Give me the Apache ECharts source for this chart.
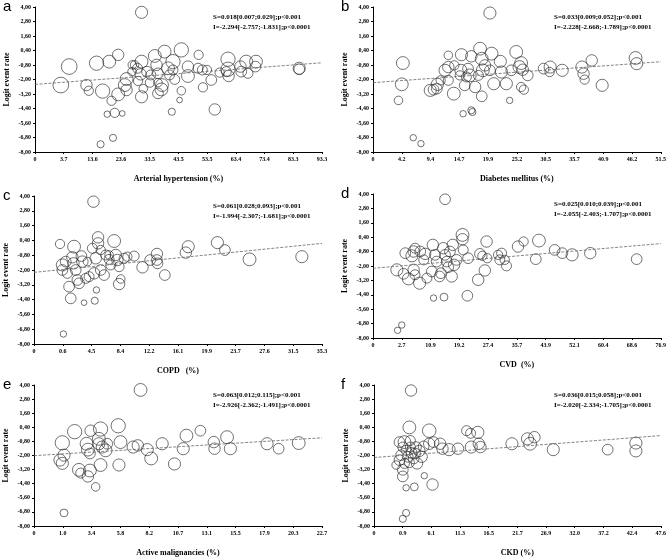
<!DOCTYPE html>
<html><head><meta charset="utf-8">
<script src="https://cdn.jsdelivr.net/npm/echarts@6/dist/echarts.min.js"></script>
<style>html,body{margin:0;padding:0;background:#fff}#c{width:669px;height:558px}</style>
</head><body><div id="c"></div>
<script>
// Y tick labels (shared)
const yTickLabels = ['-8,00','-6,80','-5,60','-4,40','-3,20','-2,00','-0,80','0,40','1,60','2,80','4,00'];
// X tick labels per panel
const hypTicks = ['0','3.7','13.6','23.6','33.5','43.5','53.5','63.4','73.4','83.3','93.3'];
const dmTicks = ['0','4.2','9.4','14.7','19.9','25.2','30.5','35.7','40.9','46.2','51.5'];
const copdTicks = ['0','0.6','4.5','8.4','12.2','16.1','19.9','23.7','27.6','31.5','35.3'];
const cvdTicks = ['0','2.7','10.9','19.2','27.4','35.7','43.9','52.1','60.4','68.6','76.9'];
const malTicks = ['0','1.0','3.4','5.8','8.2','10.7','13.1','15.5','17.9','20.3','22.7'];
const ckdTicks = ['0','0.9','6.1','11.3','16.5','21.7','26.9','32.0','37.2','42.4','47.6'];

// Studies: [prevalence %, logit event rate, weight]
const hypertension = [[30.7,3.56,17],[2.7,-2.46,22],[5.6,-0.93,22],[15.1,-0.65,20],[19.5,-0.52,18],[22.6,0.04,16],[11.6,-2.46,16],[12.4,-2.93,13],[17.2,-2.96,20],[20.3,-3.76,13],[22.6,-3.23,18],[18.8,-4.87,9],[21.4,-4.76,13],[24.0,-4.81,8],[20.8,-6.83,10],[16.5,-7.36,10],[24.9,-2.46,18],[25.5,-1.96,18],[25.5,-2.87,16],[29.3,-1.07,14],[30.4,-1.57,16],[30.7,-0.52,18],[29.5,-2.12,13],[31.3,-2.76,12],[30.7,-3.43,17],[32.6,-1.35,15],[33.6,-2.26,13],[35.3,-0.05,18],[35.9,-0.79,16],[36.4,-1.49,15],[36.4,-3.15,15],[37.8,-2.46,18],[38.7,0.31,18],[37.6,-2.82,18],[39.9,-1.07,18],[40.4,-1.62,14],[41.6,-0.52,20],[41.6,-1.21,14],[42.2,-1.99,14],[44.5,0.45,20],[44.5,-2.93,12],[43.9,-3.70,8],[41.2,-4.67,10],[46.8,-1.71,18],[46.8,-0.93,16],[50.3,-1.07,14],[50.5,0.04,13],[51.8,-1.21,14],[52.0,-2.65,13],[53.4,-1.21,13],[54.9,-2.04,15],[56.1,-4.48,16],[57.8,-1.43,13],[60.1,-1.35,14],[60.7,-1.15,20],[60.7,-0.32,20],[60.9,-1.71,16],[65.3,-1.35,15],[65.0,-0.93,16],[67.0,-0.52,18],[67.6,-1.49,14],[70.2,-0.93,15],[70.4,-0.52,18],[85.4,-1.07,17],[85.4,-1.15,15],[27.4,-1.35,12],[27.5,-0.79,12],[28.3,-0.79,12],[36.4,-2.26,12],[33.9,-1.62,14]];
const diabetes = [[20.3,3.50,17],[4.4,-0.64,18],[4.2,-2.40,18],[3.6,-3.73,12],[6.3,-6.82,9],[7.7,-7.31,9],[9.4,-2.90,17],[10.0,-2.84,15],[10.6,-2.76,15],[10.7,-2.40,17],[12.7,0.0,12],[12.1,-1.24,17],[12.7,-0.97,16],[12.7,-2.07,14],[13.7,-3.17,18],[15.1,0.05,17],[15.0,-1.24,17],[15.7,-2.48,15],[15.4,-4.83,9],[16.9,-0.08,16],[16.9,-4.55,10],[17.1,-4.69,10],[16.6,-1.66,18],[16.3,-1.10,15],[17.6,-2.62,16],[18.5,0.55,18],[18.8,-0.28,18],[19.0,-1.24,18],[18.8,-3.39,15],[18.2,-1.66,14],[19.4,-0.83,16],[20.6,0.14,18],[20.3,-1.24,15],[21.0,-2.35,17],[22.2,-0.50,17],[22.4,-1.38,17],[23.3,-2.35,17],[23.9,-3.73,9],[24.2,-1.24,15],[25.1,0.28,18],[25.7,-0.97,18],[26.0,-0.64,18],[26.3,-1.19,16],[26.0,-2.62,13],[26.5,-2.84,13],[27.2,-1.66,15],[30.1,-1.10,15],[31.3,-0.97,17],[31.2,-1.38,13],[33.5,-1.24,17],[37.1,-0.97,17],[37.4,-1.52,16],[37.6,-2.01,13],[38.9,-0.42,16],[40.8,-2.48,17],[46.9,-0.22,18],[47.1,-0.69,17],[11.3,-2.07,13],[14.8,-1.66,13],[16.0,-1.79,14],[13.8,-0.83,13]];
const copd = [[4.70,3.54,16],[0.23,0.11,13],[0.54,-1.59,17],[0.54,-2.0,15],[0.99,-1.32,15],[1.21,-2.27,14],[1.44,-3.35,15],[1.66,-4.30,15],[0.68,-7.19,9],[1.88,-0.97,16],[2.11,-0.11,18],[2.02,-1.46,16],[2.33,-2.0,15],[2.55,-2.81,15],[2.78,-3.08,15],[3.09,-0.87,15],[3.22,-1.32,16],[3.67,-2.68,14],[3.45,-4.65,8],[4.12,-2.54,14],[4.56,-0.24,14],[5.01,-1.05,16],[4.79,-2.27,16],[4.88,-4.49,10],[5.10,-3.62,9],[5.32,0.65,16],[5.32,0.16,16],[5.68,-0.38,13],[5.68,-2.0,15],[6.13,-2.41,15],[6.35,-0.78,14],[6.80,-1.14,14],[7.02,-1.59,14],[7.47,0.35,18],[7.69,-0.78,16],[7.91,-1.19,16],[8.14,-1.73,14],[8.14,-3.14,16],[8.36,-2.73,12],[8.81,-1.05,14],[9.25,-0.92,13],[10.15,-0.87,14],[11.27,-1.78,16],[12.29,-1.19,15],[13.2,-0.70,16],[13.2,-1.19,15],[13.28,-1.46,15],[14.26,-2.41,15],[17.07,-0.59,16],[17.39,-0.11,17],[21.3,0.22,17],[22.3,-0.38,15],[25.6,-1.14,18],[32.6,-0.92,17],[3.9,-1.32,12],[6.8,-0.78,12]];
const cvd = [[15.1,3.56,15],[1.3,-2.32,17],[3.2,-2.65,15],[4.6,-3.07,17],[3.7,-0.93,15],[5.6,-1.15,17],[6.1,-0.79,16],[6.5,-0.52,14],[6.1,-2.32,16],[6.5,-2.73,14],[7.8,-3.43,17],[8.0,-0.79,15],[9.4,-0.99,16],[9.9,-3.01,14],[11.3,-2.46,15],[11.6,-0.24,16],[11.8,-4.67,9],[12.2,-1.07,15],[12.7,-1.63,15],[13.5,-2.87,15],[13.9,-2.60,15],[14.6,-0.52,16],[14.8,-4.59,11],[15.1,-1.07,15],[15.6,-1.63,15],[16.0,-2.10,15],[16.5,-0.79,15],[17.0,-2.87,16],[17.3,-0.24,16],[17.7,-1.90,16],[18.4,-1.49,15],[20.1,0.59,18],[20.1,0.23,16],[20.3,-0.66,14],[21.7,-1.35,15],[21.5,-4.48,15],[24.6,-3.15,16],[25.1,-0.99,15],[25.8,-1.15,13],[26.5,-2.37,16],[27.0,0.04,16],[27.2,-1.35,13],[30.3,-1.07,13],[31.3,-0.93,14],[30.8,-1.49,14],[32.2,-1.49,13],[32.7,-1.99,14],[36.0,-0.38,16],[37.6,0.04,13],[41.1,-1.43,15],[42.0,0.12,18],[46.5,-0.66,15],[48.7,-0.93,15],[51.5,-1.07,17],[56.7,-0.93,16],[70.0,-1.43,15],[2.7,-6.92,9],[1.5,-7.36,9],[9.0,-1.49,14]];
const malignancies = [[7.51,3.58,18],[0.76,-2.39,17],[0.96,-2.67,17],[1.10,-1.97,17],[0.96,-0.92,20],[1.10,-6.89,11],[1.99,0.03,20],[2.35,-3.22,18],[3.27,-3.28,18],[3.10,-3.78,16],[3.33,0.11,16],[2.99,-1.0,18],[3.10,-1.50,18],[3.27,-1.83,15],[3.75,-4.67,12],[4.16,0.25,20],[4.02,-1.0,17],[4.02,-0.58,18],[4.16,-2.81,18],[4.30,-1.28,17],[4.58,-1.56,18],[4.72,-1.0,15],[5.64,0.53,20],[5.70,-2.81,17],[5.83,-0.86,18],[6.89,-1.28,17],[7.28,-1.14,16],[8.07,-1.50,17],[8.4,-2.25,18],[9.32,-1.0,17],[10.35,-2.72,17],[11.08,-1.42,17],[11.35,-0.31,18],[12.52,0.11,15],[13.64,-0.86,16],[13.70,-1.42,16],[14.75,-0.44,18],[15.03,-1.42,17],[18.1,-1.0,17],[19.07,-1.42,15],[20.75,-0.94,18],[2.5,-3.5,14]];
const ckd = [[2.41,3.53,16],[2.11,0.39,18],[0.32,-0.86,15],[1.22,-0.86,18],[-0.28,-2.81,12],[0.32,-2.39,15],[0.62,-1.97,15],[0.92,-3.22,15],[0.92,-3.78,15],[1.22,-2.67,14],[1.52,-1.56,14],[1.81,-2.11,15],[2.11,-2.61,14],[2.29,-1.28,14],[2.53,-1.78,15],[2.89,-2.25,15],[3.13,-1.83,15],[3.31,-1.28,15],[3.49,-2.67,16],[3.91,-1.61,16],[4.33,-2.11,16],[4.69,-1.22,15],[4.81,-3.72,9],[3.01,-4.67,11],[1.52,-4.75,9],[6.30,-4.47,16],[5.70,0.11,19],[5.70,-1.0,16],[6.48,-0.86,15],[7.68,-1.0,16],[8.10,-1.42,16],[9.30,-1.50,17],[10.91,-1.42,16],[12.47,0.11,14],[13.19,-0.11,14],[13.31,-1.28,17],[14.50,-0.03,17],[14.68,-1.0,16],[14.98,-1.28,16],[20.67,-1.0,17],[23.48,-0.58,17],[23.96,-1.0,18],[24.74,-0.44,16],[28.15,-1.50,17],[38.0,-1.50,15],[43.1,-0.94,17],[43.1,-1.61,17],[1.52,-6.89,10],[0.92,-7.39,10],[0.92,-1.28,14],[2.29,-0.72,14]];

// Meta-regression: slope, intercept used for the fitted line
const slopes = [0.018, 0.033, 0.061, 0.025, 0.063, 0.036];
const intercepts = [-2.294, -2.228, -1.994, -2.055, -1.926, -2.020];
const statTexts = [
  ['S=0.018[0.007;0.029];p<0.001','I=-2.294[-2.757;-1.831];p<0.0001'],
  ['S=0.033[0.009;0.052];p<0.001','I=-2.228[-2.668;-1.789];p<0.0001'],
  ['S=0.061[0.028;0.093];p<0.001','I=-1.994[-2.307;-1.681];p<0.0001'],
  ['S=0.025[0.010;0.039];p<0.001','I=-2.055[-2.403;-1.707];p<0.0001'],
  ['S=0.063[0.012;0.115];p<0.001','I=-2.926[-2.362;-1.491];p<0.0001'],
  ['S=0.036[0.015;0.058];p<0.001','I=-2.020[-2.334;-1.705];p<0.0001']
];
const xNames = ['Arterial hypertension (%)','Diabetes mellitus (%)','COPD   (%)','CVD  (%)','Active malignancies (%)','CKD (%)'];
const letters = ['a','b','c','d','e','f'];
const panelTicks = [hypTicks, dmTicks, copdTicks, cvdTicks, malTicks, ckdTicks];
const panelData = [hypertension, diabetes, copd, cvd, malignancies, ckd];

// layout (px)
const grids = [
  {left:35, top:7, width:287, height:145},
  {left:373, top:7, width:290, height:145},
  {left:34, top:196, width:288, height:148},
  {left:373, top:194, width:290, height:144},
  {left:34, top:385, width:288, height:144},
  {left:374, top:385, width:289, height:144}
];
const SERIF = "'Liberation Serif','Times New Roman',serif";
const SANS = "'Liberation Sans',Arial,sans-serif";

const option = {animation:false, backgroundColor:'#fff', grid:[], xAxis:[], yAxis:[], series:[], graphic:[]};
panelTicks.forEach((ticks, i) => {
  const t1 = parseFloat(ticks[1]), tN = parseFloat(ticks[ticks.length-1]);
  const step = (tN - t1) / (ticks.length - 2);
  const xmin = t1 - step, xmax = tN;
  const g = grids[i];
  option.grid.push(Object.assign({containLabel:false}, g));
  option.xAxis.push({
    type:'value', gridIndex:i, min:xmin, max:xmax, interval:step,
    splitLine:{show:false},
    axisLine:{onZero:false, lineStyle:{color:'#000', width:1}},
    axisTick:{length:2, lineStyle:{color:'#000'}},
    axisLabel:{color:'#000', fontFamily:SERIF, fontWeight:'bold', fontSize:6, margin:4,
      formatter: v => ticks[Math.round((v - xmin)/step)] ?? ''},
    name:xNames[i], nameLocation:'middle', nameGap:23,
    nameTextStyle:{color:'#000', fontFamily:SERIF, fontWeight:'bold', fontSize:8}
  });
  option.yAxis.push({
    type:'value', gridIndex:i, min:-8, max:4, interval:1.2,
    splitLine:{show:false},
    axisLine:{onZero:false, lineStyle:{color:'#000', width:1}},
    axisTick:{length:2, lineStyle:{color:'#000'}},
    axisLabel:{color:'#000', fontFamily:SERIF, fontWeight:'bold', fontSize:6, margin:4,
      formatter: v => yTickLabels[Math.round((v + 8)/1.2)] ?? ''},
    name:'Logit event rate', nameLocation:'middle', nameGap:24, nameRotate:90,
    nameTextStyle:{color:'#000', fontFamily:SERIF, fontWeight:'bold', fontSize:8}
  });
  option.series.push({
    type:'scatter', xAxisIndex:i, yAxisIndex:i, data:panelData[i],
    symbol:'circle', symbolSize: v => v[2] / 1.4,
    itemStyle:{color:'rgba(0,0,0,0)', borderColor:'#222', borderWidth:0.8},
    silent:true
  });
  option.series.push({
    type:'line', xAxisIndex:i, yAxisIndex:i, symbol:'none', silent:true,
    data:[[xmin, intercepts[i] + slopes[i]*xmin],[xmax, intercepts[i] + slopes[i]*xmax]],
    lineStyle:{color:'#666', width:0.8, type:[3,1.5]}
  });
  option.graphic.push({type:'text', left:g.left + g.width - 109, top:g.top + 5,
    style:{text:statTexts[i].join('\n'), fontFamily:SERIF, fontWeight:'bold', fontSize:7, lineHeight:10, fill:'#000'}});
  const lx = (i % 2 === 0) ? 3 : 341;
  option.graphic.push({type:'text', left:lx, top:g.top - 8,
    style:{text:letters[i], fontFamily:SANS, fontSize:15, fill:'#000'}});
});
const chart = echarts.init(document.getElementById('c'), null, {renderer:'canvas'});
chart.setOption(option);
</script></body></html>
